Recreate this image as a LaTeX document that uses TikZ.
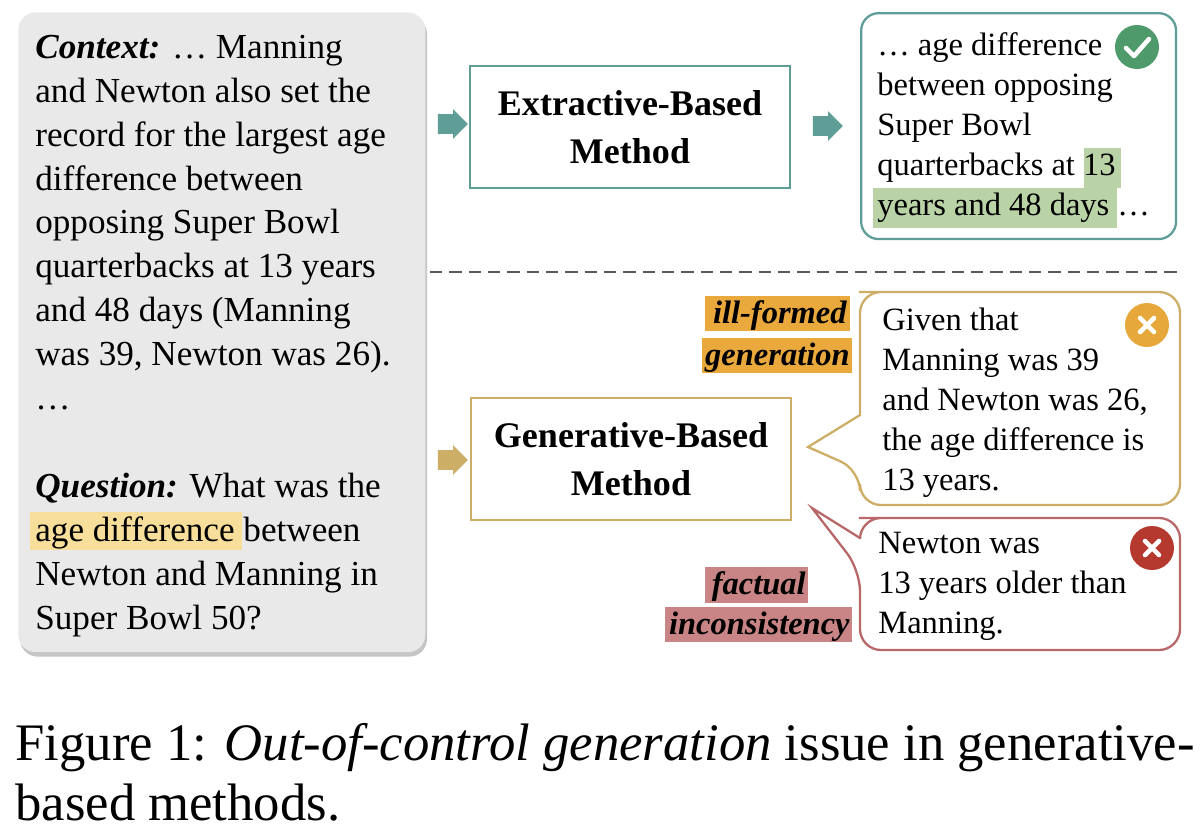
\documentclass[tikz,border=0pt]{standalone}
\usepackage{fontspec}
\setmainfont{Liberation Serif}
\usetikzlibrary{shapes.arrows,shadows}
\definecolor{teal1}{HTML}{5E9E97}
\definecolor{tan1}{HTML}{CDAE66}
\definecolor{red1}{HTML}{B86868}
\definecolor{ora}{HTML}{E9A93C}
\definecolor{pinkl}{HTML}{C98585}
\definecolor{yel}{HTML}{F7DE9A}
\definecolor{grn}{HTML}{B9D3A6}
\definecolor{chk}{HTML}{4E9A6A}
\definecolor{xo}{HTML}{E6A83A}
\definecolor{xr}{HTML}{B5392E}
\begin{document}
\begin{tikzpicture}[x=0.02cm,y=-0.02cm,
 ln/.style={anchor=base west,inner sep=0pt,font=\fontsize{20}{24}\selectfont},
 rl/.style={anchor=base west,inner sep=0pt,font=\fontsize{18.5}{22}\selectfont},
 meth/.style={draw,line width=1.6pt,minimum width=6.4cm,minimum height=2.44cm,align=center,font=\fontsize{20.5}{27}\selectfont\bfseries,fill=white},
 bigarr/.style={single arrow,draw=none,single arrow head extend=0.1cm,minimum height=0.6cm,inner sep=0pt,single arrow tip angle=90},
 captxt/.style={anchor=base west,inner sep=0pt,font=\fontsize{30}{34}\selectfont}]
\useasboundingbox (0,0) rectangle (1200,836);
\fill[white] (0,0) rectangle (1200,836);
% left box
\node[draw=none,fill=gray!17,rounded corners=10pt,minimum width=8.14cm,minimum height=12.8cm,drop shadow={shadow xshift=1pt,shadow yshift=-2.5pt,opacity=0.45},anchor=north west] (ctx) at (18,12) {};
\fill[yel] (30,512) rectangle (242,550);
\node[ln] (l1) at (35,58) {\textbf{\textit{Context:}} … Manning};
\node[ln] (l2) at (35,102) {and Newton also set the};
\node[ln] (l3) at (35,146) {record for the largest age};
\node[ln] (l4) at (35,190) {difference between};
\node[ln] (l5) at (35,233) {opposing Super Bowl};
\node[ln] (l6) at (35,277) {quarterbacks at 13 years};
\node[ln] (l7) at (35,321) {and 48 days (Manning};
\node[ln] (l8) at (35,365) {was 39, Newton was 26).};
\node[ln] (l9) at (35,409) {…};
\node[ln] (q1) at (35,497) {\textbf{\textit{Question:}} What was the};
\node[ln] (q2) at (35,541) {age difference between};
\node[ln] (q3) at (35,585) {Newton and Manning in};
\node[ln] (q4) at (35,629) {Super Bowl 50?};
% methods
\node[meth,draw=teal1] (ext) at (630,127) {Extractive-Based\\Method};
\node[meth,draw=tan1] (gen) at (631,459) {Generative-Based\\Method};
\node[bigarr,fill=teal1] (a1) at (448,124) {\rule{0pt}{0.38cm}};
\node[bigarr,fill=teal1] (a2) at (823,126) {\rule{0pt}{0.38cm}};
\node[bigarr,fill=tan1] (a3) at (448,460) {\rule{0pt}{0.38cm}};
% output box
\node[draw=teal1,line width=1.3pt,rounded corners=10pt,minimum width=6.3cm,minimum height=4.52cm,anchor=north west] (out) at (860,12) {};
\fill[grn] (1084,148) rectangle (1121,188);
\fill[grn] (873,188) rectangle (1117,228);
\node[rl] (o1) at (877,55) {… age difference};
\node[rl] (o2) at (877,95) {between opposing};
\node[rl] (o3) at (877,135) {Super Bowl};
\node[rl] (o4) at (877,175) {quarterbacks at 13};
\node[rl] (o5) at (877,215) {years and 48 days …};
\node[circle,fill=chk,minimum size=0.88cm,inner sep=0pt] (ck) at (1137,47) {};
\draw[white,line width=2.6pt,line cap=round,line join=round] (1126,48) -- (1134,56) -- (1149,39);
% dashed
\coordinate (d1) at (430,272); \coordinate (d2) at (1178,272);
\draw[gray!70!black,line width=0.8pt,dash pattern=on 7pt off 4pt] (d1) -- (d2);
% yellow callout
\draw[tan1,line width=1.3pt,fill=white,rounded corners=12pt] (880,292) -- (1180,292) -- (1180,505) -- (860,505) -- (860,470)[sharp corners] -- (808,447) -- (860,415)[rounded corners=12pt] -- (860,292) -- cycle;
\node[rl] (y1) at (882,330) {Given that};
\node[rl] (y2) at (882,370) {Manning was 39};
\node[rl] (y3) at (882,410) {and Newton was 26,};
\node[rl] (y4) at (882,450) {the age difference is};
\node[rl] (y5) at (882,490) {13 years.};
\node[circle,fill=xo,minimum size=0.88cm,inner sep=0pt] (xy) at (1147,325) {};
\draw[white,line width=2.6pt,line cap=round] (1140,318) -- (1154,332) (1154,318) -- (1140,332);
% red callout
\draw[red1,line width=1.3pt,fill=white,rounded corners=12pt] (880,518) -- (1180,518) -- (1180,650) -- (860,650) -- (860,570)[sharp corners] -- (812,508) -- (860,538)[rounded corners=12pt] -- (860,518) -- cycle;
\node[rl] (r1) at (878,553) {Newton was};
\node[rl] (r2) at (878,593) {13 years older than};
\node[rl] (r3) at (878,633) {Manning.};
\node[circle,fill=xr,minimum size=0.88cm,inner sep=0pt] (xr1) at (1152,548) {};
\draw[white,line width=2.6pt,line cap=round] (1145,541) -- (1159,555) (1159,541) -- (1145,555);
% labels
\fill[ora] (705,296) rectangle (850,331);
\fill[ora] (702,338) rectangle (852,373);
\node[anchor=base east,inner sep=0pt,font=\fontsize{18.5}{22}\selectfont\bfseries\itshape] (lab1) at (847,323) {ill-formed};
\node[anchor=base east,inner sep=0pt,font=\fontsize{18.5}{22}\selectfont\bfseries\itshape] (lab2) at (850,365) {generation};
\fill[pinkl] (705,567) rectangle (808,603);
\fill[pinkl] (665,607) rectangle (852,642);
\node[anchor=base east,inner sep=0pt,font=\fontsize{18.5}{22}\selectfont\bfseries\itshape] (lab3) at (806,594) {factual};
\node[anchor=base east,inner sep=0pt,font=\fontsize{18.5}{22}\selectfont\bfseries\itshape] (lab4) at (850,634) {inconsistency};
% caption
\node[captxt] (c1) at (15,760) {Figure 1: \textit{Out-of-control generation} issue in generative-};
\node[captxt] (c2) at (15,820) {based methods.};
\end{tikzpicture}
\end{document}
